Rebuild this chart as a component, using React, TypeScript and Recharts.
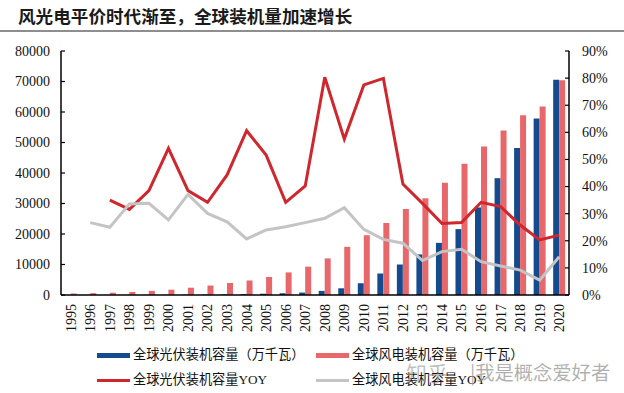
import React from 'react';
import { ComposedChart, Bar, Line, XAxis, YAxis, Legend } from 'recharts';

const years = ['1995','1996','1997','1998','1999','2000','2001','2002','2003','2004','2005','2006','2007','2008','2009','2010','2011','2012','2013','2014','2015','2016','2017','2018','2019','2020'];
const solarCapacity = [null, 18, 24, 31, 43, 66, 91, 122, 175, 280, 425, 570, 800, 1350, 2200, 3850, 7050, 10000, 13300, 17100, 21600, 28700, 38300, 48200, 57900, 70600];
const windCapacity = [480, 610, 760, 1000, 1360, 1740, 2390, 3110, 3940, 4760, 5910, 7410, 9300, 12000, 15800, 19600, 23600, 28200, 31700, 36800, 43000, 48650, 53900, 58900, 61800, 70400];
const solarYoy = [null, null, 0.35, 0.316, 0.385, 0.541, 0.385, 0.342, 0.443, 0.606, 0.516, 0.342, 0.402, 0.803, 0.575, 0.775, 0.799, 0.409, 0.338, 0.264, 0.267, 0.342, 0.326, 0.258, 0.203, 0.221];
const windYoy = [null, 0.267, 0.25, 0.336, 0.338, 0.277, 0.371, 0.301, 0.27, 0.207, 0.24, 0.252, 0.267, 0.283, 0.322, 0.242, 0.205, 0.191, 0.127, 0.16, 0.169, 0.123, 0.107, 0.092, 0.055, 0.141];
const leftTicks = [0, 10000, 20000, 30000, 40000, 50000, 60000, 70000, 80000];
const rightTicks = [0, 0.1, 0.2, 0.3, 0.4, 0.5, 0.6, 0.7, 0.8, 0.9];

const titleText = '风光电平价时代渐至，全球装机量加速增长';
const seriesNames = {
  solar: '全球光伏装机容量（万千瓦）',
  wind: '全球风电装机容量（万千瓦）',
  solarYoy: '全球光伏装机容量YOY',
  windYoy: '全球风电装机容量YOY',
};

const COLORS = {
  solar: '#144B8E',
  wind: '#E8676B',
  solarYoy: '#D0262D',
  windYoy: '#C4C4C4',
};

const data = years.map((y, i) => ({
  year: y,
  solar: solarCapacity[i],
  wind: windCapacity[i],
  solarYoy: solarYoy[i],
  windYoy: windYoy[i],
}));

const SERIF = '"Liberation Serif", "Times New Roman", serif';
const MIXED = '"Liberation Serif", "Noto Sans CJK SC", serif';

const LeftTick = (props: any) => {
  const { x, y, payload } = props;
  return (
    <g>
      <line x1={x} x2={x + 4} y1={y} y2={y} stroke="#000" strokeWidth={1.2} />
      <text x={x - 11} y={y} dy="0.35em" textAnchor="end" fontFamily={SERIF} fontSize={14} fill="#111">
        {payload.value}
      </text>
    </g>
  );
};

const RightTick = (props: any) => {
  const { x, y, payload } = props;
  return (
    <g>
      <line x1={x - 4} x2={x} y1={y} y2={y} stroke="#000" strokeWidth={1.2} />
      <text x={x + 13} y={y} dy="0.35em" textAnchor="start" fontFamily={SERIF} fontSize={14} fill="#111">
        {`${Math.round(payload.value * 100)}%`}
      </text>
    </g>
  );
};

const BottomTick = (props: any) => {
  const { x, y, payload } = props;
  const ty = y + 9;
  return (
    <text
      x={x}
      y={ty}
      dy="0.35em"
      textAnchor="end"
      transform={`rotate(-90, ${x}, ${ty})`}
      fontFamily={SERIF}
      fontSize={14}
      fill="#111"
    >
      {payload.value}
    </text>
  );
};

const LegendContent = () => {
  const items = [
    { key: 'solar', left: 97, top: 20, h: 5 },
    { key: 'wind', left: 316, top: 20, h: 5 },
    { key: 'solarYoy', left: 97, top: 45, h: 3 },
    { key: 'windYoy', left: 316, top: 45, h: 3 },
  ] as const;
  return (
    <div style={{ position: 'relative', width: 624, height: 58 }}>
      {items.map((it) => (
        <React.Fragment key={it.key}>
          <div
            style={{
              position: 'absolute',
              left: it.left,
              top: it.top - it.h / 2,
              width: 33,
              height: it.h,
              background: (COLORS as any)[it.key],
            }}
          />
          <div
            style={{
              position: 'absolute',
              left: it.left + 36,
              top: it.top - 9,
              height: 18,
              lineHeight: '18px',
              fontFamily: MIXED,
              fontSize: 13.2,
              color: '#111',
              whiteSpace: 'nowrap',
            }}
          >
            {(seriesNames as any)[it.key]}
          </div>
        </React.Fragment>
      ))}
    </div>
  );
};

export default function App() {
  return (
    <div style={{ position: 'absolute', left: 0, top: 0, width: 624, height: 393, background: '#fff', overflow: 'hidden' }}>
      <div
        style={{
          position: 'absolute',
          left: 18,
          top: 6,
          fontFamily: '"Noto Sans CJK SC", sans-serif',
          fontWeight: 700,
          fontSize: 17.6,
          lineHeight: '20px',
          color: '#1a1a1a',
          whiteSpace: 'nowrap',
        }}
      >
        {titleText}
      </div>
      <div style={{ position: 'absolute', left: 0, top: 30, width: 624, height: 2.4, background: '#8e8e8e' }} />
      <div style={{ position: 'absolute', left: 0, top: 0 }}>
        <ComposedChart
          width={624}
          height={393}
          data={data}
          margin={{ top: 51, right: 0, bottom: 58, left: 0 }}
          barGap={0}
          barCategoryGap="19%"
        >
          <XAxis
            dataKey="year"
            interval={0}
            height={40}
            tickSize={0}
            tickMargin={0}
            tickLine={false}
            axisLine={{ stroke: '#000', strokeWidth: 1.5 }}
            tick={<BottomTick />}
          />
          <YAxis
            yAxisId="left"
            orientation="left"
            width={61}
            domain={[0, 80000]}
            ticks={leftTicks}
            interval={0}
            tickSize={0}
            tickMargin={0}
            tickLine={false}
            axisLine={{ stroke: '#000', strokeWidth: 1.5 }}
            tick={<LeftTick />}
          />
          <YAxis
            yAxisId="right"
            orientation="right"
            width={55}
            domain={[0, 0.9]}
            ticks={rightTicks}
            interval={0}
            tickSize={0}
            tickMargin={0}
            tickLine={false}
            axisLine={{ stroke: '#000', strokeWidth: 1.5 }}
            tick={<RightTick />}
          />
          <Bar yAxisId="left" dataKey="solar" name={seriesNames.solar} fill={COLORS.solar} isAnimationActive={false} />
          <Bar yAxisId="left" dataKey="wind" name={seriesNames.wind} fill={COLORS.wind} isAnimationActive={false} />
          <Line
            yAxisId="right"
            type="linear"
            dataKey="solarYoy"
            name={seriesNames.solarYoy}
            stroke={COLORS.solarYoy}
            strokeWidth={3}
            dot={false}
            activeDot={false}
            isAnimationActive={false}
          />
          <Line
            yAxisId="right"
            type="linear"
            dataKey="windYoy"
            name={seriesNames.windYoy}
            stroke={COLORS.windYoy}
            strokeWidth={3}
            dot={false}
            activeDot={false}
            isAnimationActive={false}
          />
          <Legend
            layout="horizontal"
            verticalAlign="middle"
            align="center"
            wrapperStyle={{ position: 'absolute', left: 0, top: 335, width: 624, height: 58 }}
            content={<LegendContent />}
          />
        </ComposedChart>
      </div>
      <div
        style={{
          position: 'absolute',
          left: 406,
          top: 360,
          fontFamily: '"Noto Sans CJK SC", sans-serif',
          fontSize: 21,
          lineHeight: '24px',
          color: 'rgba(150,150,150,0.6)',
          whiteSpace: 'nowrap',
          pointerEvents: 'none',
        }}
      >
        知乎
      </div>
      <div
        style={{
          position: 'absolute',
          left: 470,
          top: 361,
          fontFamily: '"Noto Sans CJK SC", sans-serif',
          fontSize: 19.3,
          lineHeight: '22px',
          color: 'rgba(150,150,150,0.75)',
          whiteSpace: 'nowrap',
          pointerEvents: 'none',
        }}
      >
        |我是概念爱好者
      </div>
    </div>
  );
}
